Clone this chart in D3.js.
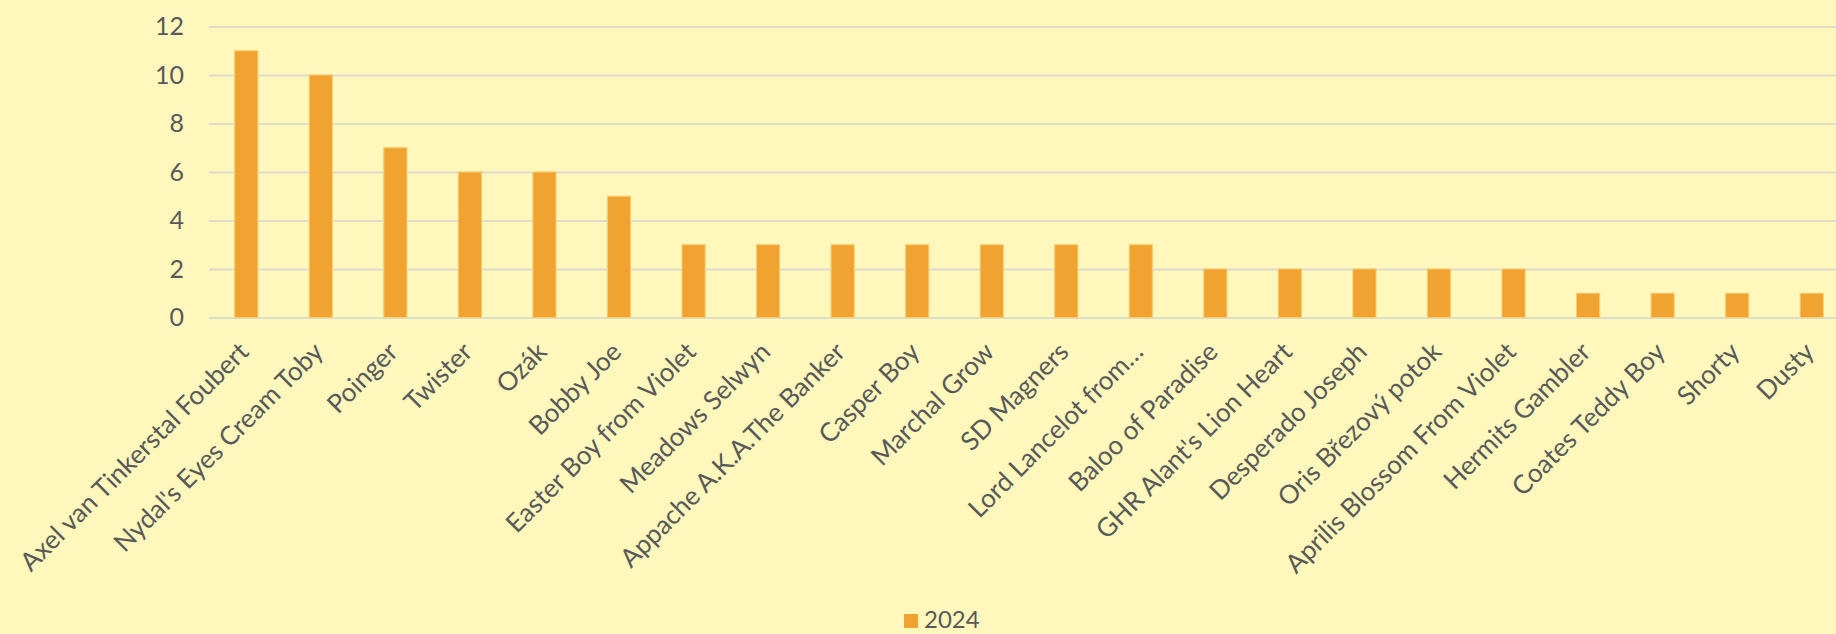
<!DOCTYPE html>
<html>
<head>
<meta charset="utf-8">
<script src="https://cdn.jsdelivr.net/npm/d3@7"></script>
<style>
  html, body { margin: 0; padding: 0; background: #FFF7BC; }
  svg { display: block; }
</style>
</head>
<body>
<div id="chart"></div>
<script>
// data
const dogs = [
    'Axel van Tinkerstal Foubert',
    "Nydal's Eyes Cream Toby",
    'Poinger',
    'Twister',
    'Ozák',
    'Bobby Joe',
    'Easter Boy from Violet',
    'Meadows Selwyn',
    'Appache A.K.A.The Banker',
    'Casper Boy',
    'Marchal Grow',
    'SD Magners',
    'Lord Lancelot from…',
    'Baloo of Paradise',
    "GHR Alant's Lion Heart",
    'Desperado Joseph',
    'Oris Březový potok',
    'Aprilis Blossom From Violet',
    'Hermits Gambler',
    'Coates Teddy Boy',
    'Shorty',
    'Dusty'
]
const counts2024 = [11, 10, 7, 6, 6, 5, 3, 3, 3, 3, 3, 3, 3, 2, 2, 2, 2, 2, 1, 1, 1, 1]
const yTicks = [0, 2, 4, 6, 8, 10, 12]
const seriesName = '2024'

const data = dogs.map((d, i) => ({name: d, value: counts2024[i]}))

const createBarChart = (data) => {
    /* size and margins */
    const width = 1836, height = 634;
    const margins = {top: 26.5, right: -13, bottom: 316.5, left: 209};
    const font = "'Gill Sans', 'Gill Sans MT', Lato, sans-serif";
    const textColor = '#595959';

    const svg = d3.select('#chart')
        .append('svg')
        .attr('width', width)
        .attr('height', height)
        .style('background', '#FFF7BC');

    /* scales */
    const xScale = d3.scaleBand()
        .domain(data.map(d => d.name))
        .range([margins.left, width - margins.right])
        .paddingInner(0.69)
        .paddingOuter(0.345);
    const yScale = d3.scaleLinear()
        .domain([0, 12])
        .range([height - margins.bottom, margins.top]);

    /* gridlines + y labels */
    const yGroup = svg.append('g')
        .attr('transform', `translate(${margins.left},0)`)
        .call(d3.axisLeft(yScale)
            .tickValues(yTicks)
            .tickSize(-(width - margins.right - margins.left))
            .tickPadding(25));
    yGroup.select('.domain').remove();
    yGroup.selectAll('line')
        .attr('stroke', '#DEDCCB')
        .attr('stroke-width', 2);
    yGroup.selectAll('text')
        .attr('fill', textColor)
        .style('font-family', font)
        .style('font-size', '25px');

    /* bars */
    const bar = svg.append('g')
        .attr('class', 'bars')
        .selectAll('rect')
        .data(data)
        .join('rect')
        .attr('x', d => xScale(d.name))
        .attr('y', d => yScale(d.value))
        .attr('width', xScale.bandwidth())
        .attr('height', d => yScale(0) - yScale(d.value))
        .attr('fill', '#F0A330')
        .attr('stroke', '#F7CC6A')
        .attr('stroke-width', 1);
    bar.append('title').text(d => d.name + ': ' + d.value);

    /* x labels, rotated */
    const xGroup = svg.append('g')
        .attr('transform', `translate(0, ${yScale(0)})`)
        .call(d3.axisBottom(xScale).tickSize(0).tickPadding(0));
    xGroup.select('.domain').remove();
    xGroup.selectAll('text')
        .attr('fill', textColor)
        .style('font-family', font)
        .style('font-size', '26px')
        .style('text-anchor', 'end')
        .attr('dy', '0')
        .attr('transform', `translate(4, 36) rotate(-45)`);

    /* legend */
    const legend = svg.append('g')
        .attr('transform', `translate(904, 614)`);
    legend.append('rect')
        .attr('width', 14)
        .attr('height', 14)
        .attr('fill', '#F0A330');
    legend.append('text')
        .attr('x', 20)
        .attr('y', 14)
        .attr('fill', textColor)
        .style('font-family', font)
        .style('font-size', '24px')
        .text(seriesName);
}

createBarChart(data)
</script>
</body>
</html>
